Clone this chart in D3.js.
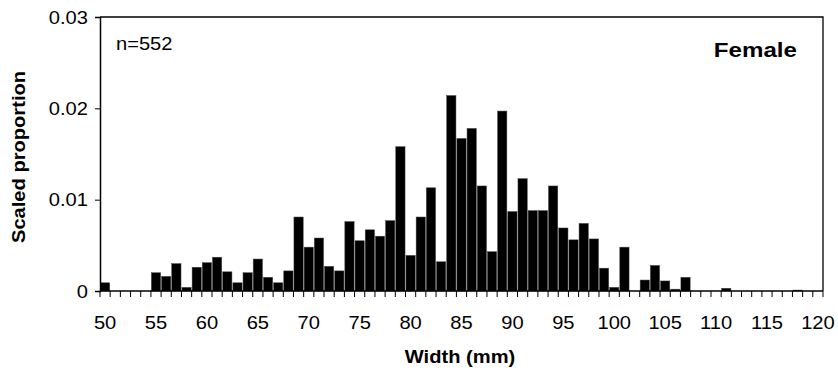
<!DOCTYPE html>
<html>
<head>
<meta charset="utf-8">
<script src="https://cdn.jsdelivr.net/npm/d3@7"></script>
<style>
  body { margin: 0; background: #fff; }
  svg text { font-family: "Liberation Sans", Arial, sans-serif; fill: #000; }
</style>
</head>
<body>
<div id="chart"></div>
<script>
// width classes (mm), 50..120
const widths = d3.range(50, 121);
// scaled proportion per width class
const proportions = [
  0.0009, 0, 0, 0, 0, 0.0020, 0.0016, 0.0030, 0.0004, 0.0026,
  0.0031, 0.0037, 0.0021, 0.0009, 0.0020, 0.0035, 0.0015, 0.0009, 0.0022, 0.0081,
  0.0048, 0.0058, 0.0027, 0.0022, 0.0076, 0.0055, 0.0067, 0.0060, 0.0077, 0.0158,
  0.0039, 0.0081, 0.0113, 0.0032, 0.0214, 0.0167, 0.0178, 0.0115, 0.0043, 0.0197,
  0.0087, 0.0123, 0.0088, 0.0088, 0.0115, 0.0069, 0.0056, 0.0074, 0.0057, 0.0025,
  0.0004, 0.0048, 0, 0.0012, 0.0028, 0.0011, 0.0002, 0.0015, 0, 0,
  0, 0.0003, 0, 0, 0, 0, 0, 0, 0.0001, 0,
  0
];
const yTicks = [0, 0.01, 0.02, 0.03];
const xLabels = [50, 55, 60, 65, 70, 75, 80, 85, 90, 95, 100, 105, 110, 115, 120];

const data = widths.map((w, i) => ({ w: w, v: proportions[i] }));

const W = 838, H = 375;
const mLeft = 100, mRight = 823, mTop = 17, mBottom = 291;
const sx = 1.15; // text in the original is a bit wide

const svg = d3.select("#chart").append("svg")
  .attr("width", W).attr("height", H);

const x = d3.scaleBand().domain(widths).range([mLeft, mRight]).paddingInner(0.09).paddingOuter(0.045);
const xEdge = d3.scaleLinear().domain([0, widths.length]).range([mLeft, mRight]);
const y = d3.scaleLinear().domain([0, 0.03]).range([mBottom, mTop]);

// plot border (top/right)
svg.append("path")
  .attr("d", `M${mLeft},${mTop}H${mRight}V${mBottom}`)
  .attr("fill", "none").attr("stroke", "#000").attr("stroke-width", 1.3);

// bars
svg.append("g").selectAll("rect")
  .data(data.filter(d => d.v > 0)).enter()
  .append("rect")
  .attr("x", d => x(d.w))
  .attr("width", x.bandwidth())
  .attr("y", d => y(d.v))
  .attr("height", d => y(0) - y(d.v))
  .attr("fill", "#000")
  .attr("stroke", "#444").attr("stroke-width", 0.5);

// x axis: ticks between categories
const xg = svg.append("g");
xg.append("line")
  .attr("x1", mLeft).attr("x2", mRight).attr("y1", mBottom).attr("y2", mBottom)
  .attr("stroke", "#000").attr("stroke-width", 1.5);
xg.selectAll(".tk").data(d3.range(0, widths.length + 1)).enter()
  .append("line")
  .attr("x1", d => xEdge(d)).attr("x2", d => xEdge(d))
  .attr("y1", mBottom).attr("y2", mBottom + 6)
  .attr("stroke", "#000").attr("stroke-width", 1);
xg.selectAll("text").data(xLabels).enter()
  .append("text")
  .attr("transform", d => `translate(${x(d) + x.bandwidth() / 2},329) scale(${sx},1)`)
  .attr("text-anchor", "middle")
  .style("font-size", "17.5px")
  .text(d => d);

// y axis
const yAxis = d3.axisLeft(y).tickValues(yTicks).tickSize(5).tickPadding(0)
  .tickFormat(d => d === 0 ? "0" : d3.format(".2f")(d));
const yg = svg.append("g")
  .attr("transform", `translate(${mLeft},0)`)
  .call(yAxis);
yg.select(".domain").attr("stroke-width", 1.5);
yg.selectAll(".tick text")
  .attr("x", null).attr("dy", null)
  .attr("transform", `translate(-12,6) scale(${sx},1)`)
  .style("font-size", "17.5px");

// labels
svg.append("text")
  .attr("transform", `translate(460,363) scale(${sx},1)`)
  .attr("text-anchor", "middle")
  .style("font-size", "17.5px").style("font-weight", "bold")
  .text("Width (mm)");

svg.append("text")
  .attr("transform", `translate(25,157) rotate(-90) scale(${sx},1)`)
  .attr("text-anchor", "middle")
  .style("font-size", "17.5px").style("font-weight", "bold")
  .text("Scaled proportion");

svg.append("text")
  .attr("transform", `translate(116,50) scale(${sx},1)`)
  .style("font-size", "17.5px")
  .text("n=552");

svg.append("text")
  .attr("transform", `translate(797,57) scale(${sx},1)`)
  .attr("text-anchor", "end")
  .style("font-size", "21px").style("font-weight", "bold")
  .text("Female");
</script>
</body>
</html>
